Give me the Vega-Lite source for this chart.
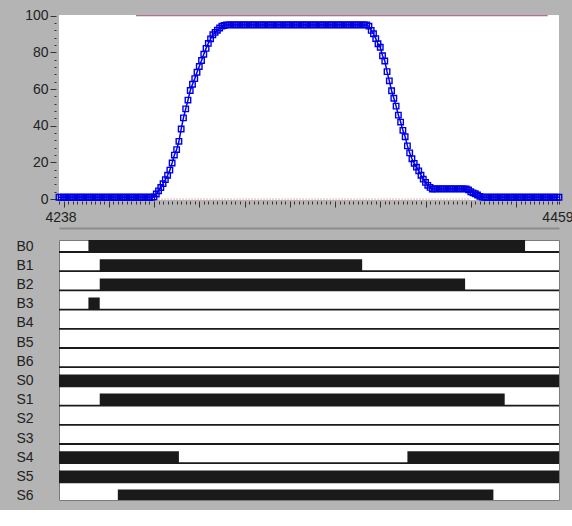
{
  "$schema": "https://vega.github.io/schema/vega-lite/v6.json",
  "background": "#b4b4b4",
  "padding": {"left": 15, "top": 8, "right": 0, "bottom": 0},
  "spacing": 40,
  "bounds": "flush",
  "config": {
    "axis": {"labelFont": "Liberation Sans", "labelFontSize": 14, "labelColor": "#222222", "grid": false, "tickColor": "#333333", "title": null},
    "view": {"stroke": null}
  },
  "datasets": {
    "upper": [{"t": 4272, "t2": 4454, "v": 100}],
    "lower": [{"t": 4282, "t2": 4420, "v": 0}],
    "curve": [
      {"t":4238,"v":1},{"t":4239,"v":1},{"t":4240,"v":1},{"t":4241,"v":1},{"t":4242,"v":1},{"t":4243,"v":1},{"t":4244,"v":1},{"t":4245,"v":1},{"t":4246,"v":1},{"t":4247,"v":1},
      {"t":4248,"v":1},{"t":4249,"v":1},{"t":4250,"v":1},{"t":4251,"v":1},{"t":4252,"v":1},{"t":4253,"v":1},{"t":4254,"v":1},{"t":4255,"v":1},{"t":4256,"v":1},{"t":4257,"v":1},
      {"t":4258,"v":1},{"t":4259,"v":1},{"t":4260,"v":1},{"t":4261,"v":1},{"t":4262,"v":1},{"t":4263,"v":1},{"t":4264,"v":1},{"t":4265,"v":1},{"t":4266,"v":1},{"t":4267,"v":1},
      {"t":4268,"v":1},{"t":4269,"v":1},{"t":4270,"v":1},{"t":4271,"v":1},{"t":4272,"v":1},{"t":4273,"v":1},{"t":4274,"v":1},{"t":4275,"v":1},{"t":4276,"v":1},{"t":4277,"v":1},
      {"t":4278,"v":1},{"t":4279,"v":1},{"t":4280,"v":1.2},{"t":4281,"v":2.8},{"t":4282,"v":4.5},{"t":4283,"v":6.3},{"t":4284,"v":8.4},{"t":4285,"v":10.6},{"t":4286,"v":13},{"t":4287,"v":15.8},
      {"t":4288,"v":19.7},{"t":4289,"v":24},{"t":4290,"v":27},{"t":4291,"v":31.5},{"t":4292,"v":38.2},{"t":4293,"v":44.3},{"t":4294,"v":49.2},{"t":4295,"v":54},{"t":4296,"v":59.2},{"t":4297,"v":62.6},
      {"t":4298,"v":65.7},{"t":4299,"v":69.2},{"t":4300,"v":72.3},{"t":4301,"v":75.6},{"t":4302,"v":79},{"t":4303,"v":82.2},{"t":4304,"v":84.9},{"t":4305,"v":87.4},{"t":4306,"v":89.6},{"t":4307,"v":90.9},
      {"t":4308,"v":92.1},{"t":4309,"v":93.3},{"t":4310,"v":94.3},{"t":4311,"v":94.7},{"t":4312,"v":95},{"t":4313,"v":95},{"t":4314,"v":95},{"t":4315,"v":95},{"t":4316,"v":95},{"t":4317,"v":95},
      {"t":4318,"v":95},{"t":4319,"v":95},{"t":4320,"v":95},{"t":4321,"v":95},{"t":4322,"v":95},{"t":4323,"v":95},{"t":4324,"v":95},{"t":4325,"v":95},{"t":4326,"v":95},{"t":4327,"v":95},
      {"t":4328,"v":95},{"t":4329,"v":95},{"t":4330,"v":95},{"t":4331,"v":95},{"t":4332,"v":95},{"t":4333,"v":95},{"t":4334,"v":95},{"t":4335,"v":95},{"t":4336,"v":95},{"t":4337,"v":95},
      {"t":4338,"v":95},{"t":4339,"v":95},{"t":4340,"v":95},{"t":4341,"v":95},{"t":4342,"v":95},{"t":4343,"v":95},{"t":4344,"v":95},{"t":4345,"v":95},{"t":4346,"v":95},{"t":4347,"v":95},
      {"t":4348,"v":95},{"t":4349,"v":95},{"t":4350,"v":95},{"t":4351,"v":95},{"t":4352,"v":95},{"t":4353,"v":95},{"t":4354,"v":95},{"t":4355,"v":95},{"t":4356,"v":95},{"t":4357,"v":95},
      {"t":4358,"v":95},{"t":4359,"v":95},{"t":4360,"v":95},{"t":4361,"v":95},{"t":4362,"v":95},{"t":4363,"v":95},{"t":4364,"v":95},{"t":4365,"v":95},{"t":4366,"v":95},{"t":4367,"v":95},
      {"t":4368,"v":95},{"t":4369,"v":95},{"t":4370,"v":95},{"t":4371,"v":95},{"t":4372,"v":95},{"t":4373,"v":95},{"t":4374,"v":95},{"t":4375,"v":94.3},{"t":4376,"v":92},{"t":4377,"v":90.2},
      {"t":4378,"v":87.5},{"t":4379,"v":84.7},{"t":4380,"v":82.8},{"t":4381,"v":78.2},{"t":4382,"v":75.3},{"t":4383,"v":69.5},{"t":4384,"v":64.5},{"t":4385,"v":59.1},{"t":4386,"v":55},{"t":4387,"v":50.7},
      {"t":4388,"v":45.8},{"t":4389,"v":42},{"t":4390,"v":37.5},{"t":4391,"v":34},{"t":4392,"v":29},{"t":4393,"v":25.2},{"t":4394,"v":22},{"t":4395,"v":19.5},{"t":4396,"v":17.4},{"t":4397,"v":15.4},
      {"t":4398,"v":13},{"t":4399,"v":10.9},{"t":4400,"v":9.1},{"t":4401,"v":7.5},{"t":4402,"v":6.4},{"t":4403,"v":5.5},{"t":4404,"v":5.6},{"t":4405,"v":5.6},{"t":4406,"v":5.6},{"t":4407,"v":5.6},
      {"t":4408,"v":5.6},{"t":4409,"v":5.6},{"t":4410,"v":5.6},{"t":4411,"v":5.6},{"t":4412,"v":5.6},{"t":4413,"v":5.6},{"t":4414,"v":5.6},{"t":4415,"v":5.6},{"t":4416,"v":5.6},{"t":4417,"v":5.6},
      {"t":4418,"v":5.6},{"t":4419,"v":5},{"t":4420,"v":4},{"t":4421,"v":3.4},{"t":4422,"v":2.9},{"t":4423,"v":2.2},{"t":4424,"v":1.5},{"t":4425,"v":1.1},{"t":4426,"v":1},{"t":4427,"v":1},
      {"t":4428,"v":1},{"t":4429,"v":1},{"t":4430,"v":1},{"t":4431,"v":1},{"t":4432,"v":1},{"t":4433,"v":1},{"t":4434,"v":1},{"t":4435,"v":1},{"t":4436,"v":1},{"t":4437,"v":1},
      {"t":4438,"v":1},{"t":4439,"v":1},{"t":4440,"v":1},{"t":4441,"v":1},{"t":4442,"v":1},{"t":4443,"v":1},{"t":4444,"v":1},{"t":4445,"v":1},{"t":4446,"v":1},{"t":4447,"v":1},
      {"t":4448,"v":1},{"t":4449,"v":1},{"t":4450,"v":1},{"t":4451,"v":1},{"t":4452,"v":1},{"t":4453,"v":1},{"t":4454,"v":1},{"t":4455,"v":1},{"t":4456,"v":1},{"t":4457,"v":1},
      {"t":4458,"v":1},{"t":4459,"v":1}
    ],
    "signals": [
      {"sig": "B0"}, {"sig": "B1"}, {"sig": "B2"}, {"sig": "B3"}, {"sig": "B4"}, {"sig": "B5"}, {"sig": "B6"},
      {"sig": "S0"}, {"sig": "S1"}, {"sig": "S2"}, {"sig": "S3"}, {"sig": "S4"}, {"sig": "S5"}, {"sig": "S6"}
    ],
    "bars": [
      {"sig": "B0", "start": 4251, "end": 4444},
      {"sig": "B1", "start": 4256, "end": 4372},
      {"sig": "B2", "start": 4256, "end": 4417.5},
      {"sig": "B3", "start": 4251, "end": 4256},
      {"sig": "S0", "start": 4238, "end": 4459},
      {"sig": "S1", "start": 4256, "end": 4435},
      {"sig": "S4", "start": 4238, "end": 4291},
      {"sig": "S4", "start": 4392, "end": 4459},
      {"sig": "S5", "start": 4238, "end": 4459},
      {"sig": "S6", "start": 4264, "end": 4430}
    ]
  },
  "vconcat": [
    {
      "width": 500,
      "height": 185,
      "view": {"fill": "white", "stroke": null},
      "encoding": {
        "x": {
          "field": "t", "type": "quantitative",
          "scale": {"domain": [4238, 4459], "nice": false, "zero": false},
          "axis": {
            "values": [4238,4240,4242,4244,4246,4248,4250,4252,4254,4256,4258,4260,4262,4264,4266,4268,4270,4272,4274,4276,4278,4280,4282,4284,4286,4288,4290,4292,4294,4296,4298,4300,4302,4304,4306,4308,4310,4312,4314,4316,4318,4320,4322,4324,4326,4328,4330,4332,4334,4336,4338,4340,4342,4344,4346,4348,4350,4352,4354,4356,4358,4360,4362,4364,4366,4368,4370,4372,4374,4376,4378,4380,4382,4384,4386,4388,4390,4392,4394,4396,4398,4400,4402,4404,4406,4408,4410,4412,4414,4416,4418,4420,4422,4424,4426,4428,4430,4432,4434,4436,4438,4440,4442,4444,4446,4448,4450,4452,4454,4456,4458,4459],
            "format": "d",
            "labelExpr": "datum.value == 4238 || datum.value == 4459 ? datum.label : ''",
            "tickSize": {"condition": {"test": "datum.value % 20 == 0", "value": 6}, "value": 3},
            "domain": false,
            "offset": 1,
            "labelPadding": 6,
            "labelFlush": true,
            "labelFlushOffset": 14,
            "labelOverlap": false,
            "labelBound": false
          }
        },
        "y": {
          "field": "v", "type": "quantitative",
          "scale": {"domain": [-0.5, 100.4], "nice": false, "zero": false},
          "axis": {
            "values": [0,4,8,12,16,20,24,28,32,36,40,44,48,52,56,60,64,68,72,76,80,84,88,92,96,100],
            "labelExpr": "datum.value % 20 == 0 ? datum.label : ''",
            "tickSize": {"condition": {"test": "datum.value % 20 == 0", "value": 6}, "value": 2},
            "domain": false,
            "offset": 3,
            "labelPadding": 2,
            "labelOverlap": false
          }
        }
      },
      "layer": [
        {
          "data": {"name": "upper"},
          "mark": {"type": "rule", "color": "#9a4a78", "strokeWidth": 1},
          "encoding": {"x2": {"field": "t2"}}
        },
        {
          "data": {"name": "lower"},
          "mark": {"type": "rule", "color": "#e05a5a", "strokeWidth": 1, "strokeDash": [1, 2]},
          "encoding": {"x2": {"field": "t2"}}
        },
        {
          "data": {"name": "curve"},
          "mark": {"type": "line", "color": "#0000ff", "strokeWidth": 1.5},
          "encoding": {}
        },
        {
          "data": {"name": "curve"},
          "mark": {"type": "point", "shape": "square", "filled": false, "size": 30, "color": "#0000e0", "strokeWidth": 1.4, "opacity": 1},
          "encoding": {}
        }
      ]
    },
    {
      "width": 500,
      "height": 260,
      "view": {"fill": "white", "stroke": "#7a7a7a"},
      "encoding": {
        "y": {
          "field": "sig", "type": "nominal",
          "scale": {"domain": ["B0","B1","B2","B3","B4","B5","B6","S0","S1","S2","S3","S4","S5","S6"], "range": [0, 268.8], "paddingInner": 0, "paddingOuter": 0},
          "axis": {"ticks": false, "tickSize": 0, "domain": false, "labelAlign": "left", "labelPadding": 43, "labelOffset": -3}
        }
      },
      "layer": [
        {
          "data": {"name": "signals"},
          "mark": {"type": "rule", "color": "#1a1a1a", "strokeWidth": 1.8, "yOffset": 2.4, "clip": true},
          "encoding": {}
        },
        {
          "data": {"name": "bars"},
          "mark": {"type": "bar", "color": "#1a1a1a", "height": 12, "yOffset": -3.6, "clip": true},
          "encoding": {
            "x": {
              "field": "start", "type": "quantitative",
              "scale": {"domain": [4238, 4459], "nice": false, "zero": false},
              "axis": {"orient": "top", "offset": 12, "domain": true, "domainColor": "#8c8c8c", "domainWidth": 2, "ticks": false, "labels": false}
            },
            "x2": {"field": "end"}
          }
        }
      ]
    }
  ]
}
